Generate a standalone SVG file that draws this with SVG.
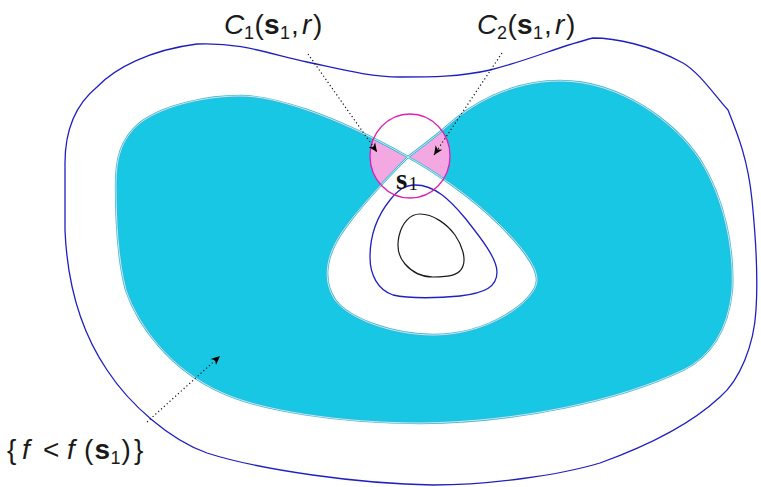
<svg xmlns="http://www.w3.org/2000/svg" width="761" height="487" viewBox="0 0 761 487">
<style>
.blue{fill:none;stroke:#2020c0;stroke-width:1.3}
.blk{fill:none;stroke:#1a1a1a;stroke-width:1.2}
.edge{fill:none;stroke:#3bb6d6;stroke-width:2.4}
.edgein{fill:none;stroke:#ffffff;stroke-width:0.7}
.dot{fill:none;stroke:#111;stroke-width:1.2;stroke-dasharray:1.2 2.6}
.t{font-family:"Liberation Sans","DejaVu Sans",sans-serif;font-size:28px;fill:#1a1a1a}
.it{font-style:italic}
.b{font-weight:bold}
.sub{font-size:18px}
</style>
<defs>
<path id="lvl" fill-rule="evenodd" d="M 408,157 C 385,144 350,125 307,110 C 280,101 260,96 240,96 C 210,96 165,104 140,123 C 120,140 116,160 116,185 C 116,220 118,260 126,290 C 138,325 170,370 223,393 C 260,410 340,423 420,423 C 520,422 620,400 683,370 C 710,357 728,330 732,290 C 734,250 725,200 700,160 C 675,122 620,81 560,81 C 510,81 470,105 445,128 C 432,139 420,148 408,157 Z M 408,157 C 430,169 470,195 500,225 C 520,245 537,265 537,280 C 537,300 490,335 433,335 C 395,335 350,320 335,300 C 322,280 325,255 345,228 C 360,207 385,180 408,157 Z"/>
<clipPath id="ballclip"><ellipse cx="410" cy="156" rx="40" ry="42"/></clipPath>
<marker id="ah" viewBox="-10 -5 12 10" refX="0" refY="0" markerWidth="12" markerHeight="10" markerUnits="userSpaceOnUse" orient="auto">
<path d="M0,0 L-9,-4 L-6.5,0 L-9,4 Z" fill="#000"/>
</marker>
</defs>

<g id="outer-contour">
<path class="blue" d="M 197,44 C 240,42 270,54 307,62 C 340,69 370,77 400,77 C 430,77 460,77 490,70 C 530,60 560,46 593,38 C 615,38 650,45 683,63 C 700,73 715,96 728,110 C 738,135 748,160 752,200 C 756,240 758,280 756,310 C 754,345 740,380 720,397 C 690,425 650,445 600,463 C 560,475 490,485 433,485 C 360,484 260,470 207,453 C 170,440 130,405 107,370 C 80,330 67,280 65,230 L 65,163 C 65,130 75,105 97,87 C 115,68 150,50 197,44 Z"/>
</g>

<g id="sublevel-set">
<use href="#lvl" fill="#17c7e3"/>
<use href="#lvl" fill="#f4a8e2" clip-path="url(#ballclip)"/>
<use href="#lvl" class="edge"/>
<use href="#lvl" class="edgein"/>
</g>

<g id="inner-contour">
<path class="blue" d="M 415,185 C 435,185 450,200 465,218 C 480,237 497,258 497,272 C 497,287 485,293 460,296 C 440,298 410,299 393,295 C 378,290 370,275 370,257 C 370,235 378,215 390,200 C 398,190 405,185 415,185 Z"/>
</g>

<g id="core-contour">
<path class="blk" d="M 420,214 C 433,214 447,224 455,235 C 462,245 466,258 463,266 C 460,275 450,277 433,277 C 420,277 412,272 405,264 C 398,256 397,245 399,236 C 402,223 410,214 420,214 Z"/>
</g>

<g id="ball">
<ellipse cx="410" cy="156" rx="40" ry="42" fill="none" stroke="#e01eb4" stroke-width="1.3"/>
</g>

<g id="connectors">
<path class="dot" d="M 308,54 L 377,152" marker-end="url(#ah)"/>
<path class="dot" d="M 502,53 L 434,155" marker-end="url(#ah)"/>
<path class="dot" d="M 147,422 L 220,356" marker-end="url(#ah)"/>
</g>

<g id="label-s1">
<text x="396" y="189" font-family="'Liberation Serif','DejaVu Serif',serif" font-size="29" font-weight="bold" fill="#111">s</text>
<text x="408.5" y="190" font-family="'Liberation Serif','DejaVu Serif',serif" font-size="19" fill="#111">1</text>
</g>

<g id="label-C1">
<text class="t" y="34"><tspan class="it" x="224">C</tspan><tspan class="sub" x="244" dy="5">1</tspan><tspan x="254.5" dy="-5">(</tspan><tspan class="b" x="264">s</tspan><tspan class="sub" x="280" dy="5">1</tspan><tspan x="291" dy="-5">,</tspan><tspan class="it" x="302">r</tspan><tspan x="313">)</tspan></text>
</g>

<g id="label-C2">
<text class="t" y="34"><tspan class="it" x="477">C</tspan><tspan class="sub" x="497" dy="5">2</tspan><tspan x="507.5" dy="-5">(</tspan><tspan class="b" x="517">s</tspan><tspan class="sub" x="533" dy="5">1</tspan><tspan x="544" dy="-5">,</tspan><tspan class="it" x="555">r</tspan><tspan x="566">)</tspan></text>
</g>

<g id="label-sublevel">
<text class="t" y="459"><tspan x="7">{</tspan><tspan class="it" x="22">f</tspan><tspan x="43">&lt;</tspan><tspan class="it" x="67">f</tspan><tspan x="84">(</tspan><tspan class="b" x="94.5">s</tspan><tspan class="sub" x="110.5" dy="5">1</tspan><tspan x="121.5" dy="-5">)</tspan><tspan x="134">}</tspan></text>
</g>
</svg>
